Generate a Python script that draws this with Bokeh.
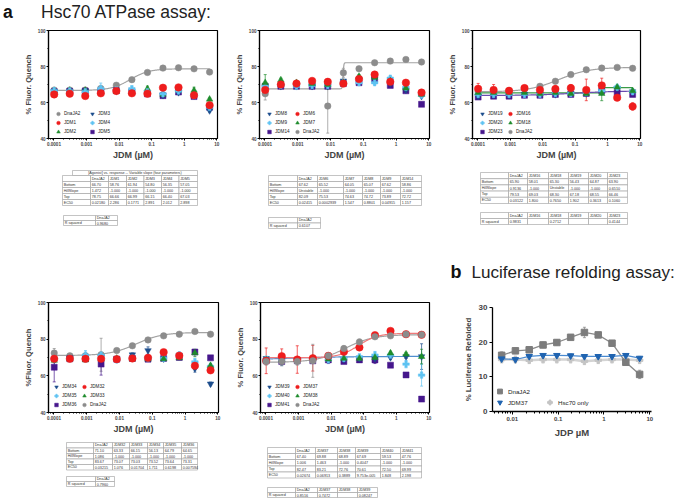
import numpy as np
from bokeh.plotting import figure
from bokeh.layouts import column, row
from bokeh.models import (Range1d, FixedTicker, CustomJSTickFormatter, Legend,
                          LegendItem, ColumnDataSource, Whisker, TeeHead)
from bokeh.core.properties import value
from bokeh.embed import file_html
from bokeh.resources import INLINE

FONT = "Liberation Sans"

# ---------------- data ----------------
conc_a = [0.0001016, 0.0003048, 0.0009145, 0.002743, 0.008230, 0.02469,
          0.07407, 0.2222, 0.6667, 2.0, 6.0]
conc_b = [0.00586, 0.0117, 0.0234, 0.0469, 0.0938, 0.1875, 0.375, 0.75, 1.5, 3.0, 6.0]

# panel a1
a1_dnaja2 = [66.9, 66.9, 66.9, 67.8, 69.6, 72.7, 76.7, 79.1, 79.3, 78.7, 76.9]
a1_dnaja2_err = [0.8, 0.6, 0.6, 0.8, 1.0, 0.8, 0.6, 0.6, 0.5, 0.6, 0.6]
a1_jdm1 = [64.5, 64.9, 63.6, 65.1, 66.4, 65.1, 64.9, 68.2, 68.4, 64.0, 58.5]
a1_jdm1_err = [1.2, 1.0, 0.8, 0.8, 0.8, 1.0, 0.8, 0.8, 0.8, 1.0, 1.0]
a1_jdm2 = [66.4, 66.7, 66.7, 65.8, 66.2, 65.8, 67.6, 64.5, 66.9, 66.7, 61.8]
a1_jdm2_err = [0.8, 0.8, 0.6, 0.8, 0.8, 0.8, 1.5, 0.8, 0.8, 1.8, 0.8]
a1_jdm3 = [66.2, 66.2, 66.4, 66.0, 66.4, 66.0, 65.5, 64.0, 65.6, 63.6, 55.5]
a1_jdm3_err = [0.6, 0.6, 0.6, 0.6, 0.6, 0.6, 0.6, 0.6, 0.6, 0.6, 0.8]
a1_jdm4 = [66.6, 66.4, 66.0, 67.8, 67.0, 67.6, 66.0, 64.8, 66.4, 63.8, 57.3]
a1_jdm4_err = [0.8, 0.8, 0.8, 3.0, 1.2, 1.5, 0.8, 0.8, 0.8, 0.8, 1.2]
a1_jdm5 = [66.0, 66.2, 66.4, 66.2, 66.6, 66.0, 64.8, 63.8, 65.8, 63.3, 57.3]
a1_jdm5_err = [0.6, 0.6, 0.6, 0.6, 0.6, 0.6, 0.6, 0.6, 0.6, 0.6, 0.6]

# panel a2
a2_dnaja2 = [64.9, 69.5, 70.3, 70.3, 58.0, 76.5, 78.8, 82.1, 83.0, 83.9, 82.5]
a2_dnaja2_err = [3.5, 1.5, 2.0, 2.0, 15.0, 2.5, 1.0, 0.6, 0.6, 0.6, 0.6]
a2_jdm6 = [67.0, 70.0, 70.5, 72.0, 71.5, 70.5, 73.0, 75.5, 71.5, 71.0, 65.5]
a2_jdm6_err = [1.5, 1.0, 1.0, 1.5, 1.5, 1.0, 1.5, 1.5, 1.0, 1.5, 1.5]
a2_jdm7 = [71.0, 72.5, 71.0, 70.5, 70.0, 71.0, 74.5, 74.0, 72.0, 68.0, 64.5]
a2_jdm7_err = [4.5, 1.0, 1.0, 1.0, 1.0, 1.0, 1.0, 1.0, 1.0, 1.0, 1.0]
a2_jdm8 = [68.5, 69.0, 69.0, 69.0, 69.0, 72.0, 72.5, 73.0, 70.5, 67.0, 63.5]
a2_jdm8_err = [0.8, 0.8, 0.8, 0.8, 0.8, 0.8, 0.8, 0.8, 0.8, 0.8, 0.8]
a2_jdm9 = [69.0, 69.5, 69.0, 69.5, 69.5, 71.0, 71.0, 71.0, 73.5, 68.5, 64.0]
a2_jdm9_err = [1.5, 1.0, 1.0, 1.0, 1.0, 1.0, 1.0, 1.0, 1.0, 1.0, 1.0]
a2_jdm14 = [69.0, 69.0, 69.0, 69.0, 69.0, 70.5, 71.0, 73.0, 69.5, 66.5, 59.0]
a2_jdm14_err = [0.6, 0.6, 0.6, 0.6, 0.6, 0.6, 0.6, 0.6, 0.6, 0.6, 0.6]

# panel a3
a3_dnaja2 = [66.0, 66.0, 66.5, 67.5, 69.0, 71.8, 75.5, 78.2, 79.1, 79.5, 79.0]
a3_dnaja2_err = [0.6, 0.6, 0.6, 0.6, 0.6, 0.6, 0.6, 0.6, 0.6, 0.6, 0.6]
a3_jdm16 = [67.6, 67.0, 66.5, 68.0, 67.0, 67.5, 68.0, 67.0, 69.5, 62.7, 57.8]
a3_jdm16_err = [3.0, 3.0, 1.5, 1.5, 1.5, 2.0, 2.0, 6.0, 4.0, 1.0, 2.0]
a3_jdm18 = [65.5, 65.5, 65.5, 65.5, 65.0, 65.5, 65.0, 65.0, 65.0, 68.5, 66.5]
a3_jdm18_err = [0.8, 0.8, 0.8, 0.8, 0.8, 0.8, 0.8, 0.8, 4.0, 0.8, 1.0]
a3_jdm19 = [63.5, 64.0, 64.0, 64.5, 64.5, 64.5, 65.0, 65.0, 66.0, 68.0, 66.0]
a3_jdm19_err = [1.5, 1.5, 1.0, 1.0, 1.0, 1.0, 1.0, 1.0, 1.0, 1.0, 1.0]
a3_jdm20 = [64.5, 64.5, 64.5, 64.5, 64.5, 65.0, 65.0, 65.5, 66.5, 68.5, 66.0]
a3_jdm20_err = [1.0, 1.0, 1.0, 1.0, 1.0, 1.0, 1.0, 1.0, 1.0, 1.0, 1.0]
a3_jdm23 = [63.0, 63.5, 63.5, 64.0, 64.0, 64.5, 64.5, 65.0, 66.5, 65.5, 64.5]
a3_jdm23_err = [0.6, 0.6, 0.6, 0.6, 0.6, 0.6, 0.6, 0.6, 0.6, 0.6, 0.6]

# panel a4
a4_dnaja2 = [72.4, 70.9, 70.9, 71.5, 73.8, 76.4, 79.6, 81.8, 82.7, 84.2, 82.7]
a4_dnaja2_err = [2.5, 1.0, 1.0, 9.0, 1.0, 0.8, 0.8, 0.6, 0.6, 0.6, 0.6]
a4_jdm32 = [69.3, 69.3, 69.3, 69.3, 69.1, 69.5, 69.8, 72.9, 71.0, 65.5, 63.0]
a4_jdm32_err = [1.5, 1.0, 1.0, 1.5, 1.0, 1.0, 1.0, 1.0, 1.5, 2.0, 1.5]
a4_jdm33 = [68.4, 69.1, 68.7, 69.1, 69.5, 69.1, 69.1, 69.3, 69.8, 72.5, 65.6]
a4_jdm33_err = [1.0, 1.0, 1.0, 1.0, 1.0, 1.0, 1.0, 1.0, 1.0, 2.0, 1.0]
a4_jdm34 = [68.7, 69.8, 70.2, 70.2, 69.3, 71.5, 73.8, 69.3, 71.3, 64.0, 55.6]
a4_jdm34_err = [1.0, 1.0, 1.0, 2.0, 1.0, 1.0, 2.0, 1.0, 1.0, 2.0, 1.0]
a4_jdm35 = [69.1, 69.3, 71.3, 71.3, 68.7, 69.6, 69.6, 69.6, 71.5, 67.6, 65.1]
a4_jdm35_err = [1.0, 1.0, 2.5, 1.0, 1.0, 1.0, 1.0, 1.0, 1.0, 2.0, 1.0]
a4_jdm36 = [64.7, 69.3, 69.3, 66.4, 69.1, 69.5, 69.1, 69.5, 70.0, 73.0, 69.8]
a4_jdm36_err = [8.0, 1.0, 1.0, 6.0, 1.0, 1.0, 1.0, 1.0, 1.0, 1.0, 1.0]

# panel a5
a5_dnaja2 = [67.8, 67.8, 67.8, 68.2, 70.9, 74.9, 78.5, 81.3, 81.8, 82.7, 82.4]
a5_dnaja2_err = [2.0, 2.0, 2.0, 9.0, 1.0, 1.5, 1.5, 0.8, 0.8, 0.6, 0.6]
a5_jdm37 = [68.2, 70.7, 68.9, 69.6, 70.9, 73.1, 75.5, 82.2, 84.5, 82.7, 82.4]
a5_jdm37_err = [7.0, 4.0, 7.5, 7.0, 1.0, 1.0, 1.0, 0.8, 0.8, 0.6, 0.6]
a5_jdm38 = [68.7, 68.7, 68.7, 69.5, 69.1, 69.5, 69.5, 70.0, 72.4, 71.8, 70.5]
a5_jdm38_err = [1.0, 1.0, 1.0, 1.0, 1.0, 1.0, 1.0, 1.0, 1.0, 1.0, 4.0]
a5_jdm39 = [69.5, 68.5, 68.5, 68.5, 69.0, 69.0, 69.5, 69.5, 70.0, 70.5, 70.5]
a5_jdm39_err = [1.0, 3.0, 1.0, 1.0, 1.0, 1.0, 1.0, 1.0, 1.0, 1.0, 7.0]
a5_jdm40 = [69.1, 69.1, 68.7, 68.7, 68.7, 69.5, 70.4, 71.3, 71.3, 66.4, 60.4]
a5_jdm40_err = [1.0, 1.0, 1.0, 1.0, 1.0, 1.0, 1.0, 2.0, 2.0, 2.0, 6.0]
a5_jdm41 = [68.2, 67.8, 68.2, 68.2, 68.7, 67.8, 68.7, 68.7, 65.8, 60.5, 47.3]
a5_jdm41_err = [1.0, 1.0, 1.0, 1.0, 2.0, 1.0, 1.0, 2.0, 1.0, 1.0, 1.0]

# panel b
b_dnaja2 = [16.2, 17.5, 17.8, 19.2, 19.9, 21.4, 22.8, 22.1, 19.7, 14.2, 10.7]
b_dnaja2_err = [1.0, 0.8, 0.6, 0.8, 0.8, 0.5, 1.5, 0.5, 0.7, 0.5, 1.2]
b_jdm37 = [15.2, 15.0, 15.9, 16.2, 16.2, 16.1, 15.9, 15.9, 15.9, 16.2, 15.4]
b_jdm37_err = [0.5, 0.5, 0.5, 0.5, 0.5, 0.5, 0.5, 0.5, 0.5, 0.5, 0.5]
b_hsc70 = [15.0, 15.0, 14.8, 15.0, 15.0, 15.0, 14.5, 14.8, 15.0, 15.0, 14.8]
b_hsc70_err = [1.0, 1.0, 1.0, 1.0, 1.0, 1.0, 1.0, 1.0, 1.0, 1.0, 1.0]

# tables
row_names = ["Bottom", "HillSlope", "Top", "EC50"]
t1_header = "[Agonist] vs. response -- Variable slope (four parameters)"
t1_cols = ["DnaJA2", "JDM1", "JDM2", "JDM3", "JDM4", "JDM5"]
t1_bottom = ["66.70", "58.76", "61.94", "54.80", "56.35", "57.05"]
t1_hill = ["1.472", "-1.000", "-1.000", "-1.000", "-1.000", "-1.000"]
t1_top = ["78.75", "66.66", "66.99", "66.15", "66.40", "67.03"]
t1_ec50 = ["0.02180", "2.286", "0.1771", "2.891", "2.012", "2.898"]
t1_rsq_cols = ["DnaJA2"]
t1_rsq = ["0.9680"]

t2_cols = ["DnaJA2", "JDM6", "JDM7", "JDM8", "JDM9", "JDM14"]
t2_bottom = ["67.62", "65.52", "64.05", "65.07", "67.62", "58.86"]
t2_hill = ["Unstable", "-1.000", "-1.000", "-1.000", "-1.000", "-1.000"]
t2_top = ["82.09", "75.53", "74.63", "74.72", "73.89", "72.72"]
t2_ec50 = ["0.02415", "0.0002939", "1.547", "0.8801", "0.04915", "1.157"]
t2_rsq_cols = ["DnaJA2"]
t2_rsq = ["0.6107"]

t3_cols = ["DnaJA2", "JDM16", "JDM18", "JDM19", "JDM20", "JDM23"]
t3_bottom = ["65.90", "58.01", "65.30", "56.43", "64.87", "63.90"]
t3_hill = ["0.9136", "-1.000", "Unstable", "-1.000", "-1.000", "0.6510"]
t3_top = ["79.53", "69.03", "68.30", "67.18", "68.55", "66.46"]
t3_ec50 = ["0.03122", "1.800", "0.7650", "1.902", "0.3613", "0.1060"]
t3_rsq_cols = ["DnaJA2", "JDM16", "JDM18", "JDM19", "JDM20", "JDM23"]
t3_rsq = ["0.9831", "", "0.2712", "", "", "0.4144"]

t4_cols = ["DnaJA2", "JDM32", "JDM33", "JDM34", "JDM35", "JDM36"]
t4_bottom = ["71.10", "63.33", "66.15", "56.13", "64.79", "64.65"]
t4_hill = ["1.086", "-1.000", "-1.000", "-1.000", "-1.000", "-1.000"]
t4_top = ["83.67", "73.07", "73.03", "73.52", "73.64", "73.31"]
t4_ec50 = ["0.03215", "1.076", "0.01704", "1.711", "0.6198", "0.007594"]
t4_rsq_cols = ["DnaJA2"]
t4_rsq = ["0.7960"]

t5_cols = ["DnaJA2", "JDM37", "JDM38", "JDM39", "JDM40", "JDM41"]
t5_bottom = ["67.40", "69.88", "68.89", "67.69", "59.53", "47.76"]
t5_hill = ["1.006", "1.463", "-1.000", "0.4047", "-1.000", "-1.000"]
t5_top = ["82.47", "83.21", "72.76", "70.61", "72.50", "69.99"]
t5_ec50 = ["0.02674", "0.06913", "0.3889", "9.753e-005", "1.848", "2.198"]
t5_rsq_cols = ["DnaJA2", "JDM37", "JDM38", "JDM39"]
t5_rsq = ["0.8516", "0.7472", "", "0.08247"]

# ---------------- styles ----------------
COL = {"grey": "#8c8c8c", "red": "#ee1d1d", "green": "#1e8c2c",
       "navy": "#1c4d8c", "light": "#5ec3f2", "purple": "#46178c"}
MARK = {"grey": ("circle", 6.5), "red": ("circle", 7.5), "green": ("triangle", 6.5),
        "navy": ("inverted_triangle", 6.5), "light": ("plus", 6.5), "purple": ("square", 6.0)}
CURVE_COL = {"grey": "#a3a3a3", "green": "#3a9a46", "purple": "#6a4ab0",
             "red": "#f07a7a", "navy": "#4f8fd0"}
STEEP = 40.0
XR = (6.8e-5, 10.5)
XTICKS = [0.0001, 0.001, 0.01, 0.1, 1, 10]
XMINOR = [k * 10.0 ** e for e in range(-5, 2) for k in range(2, 10)]


def panel_fig(width, height, bl, br, bt, bb, ylabel):
    p = figure(width=width, height=height, x_axis_type="log",
               x_range=Range1d(*XR), y_range=Range1d(40, 100),
               output_backend="svg", toolbar_location=None, frame_align=False,
               min_border_left=bl, min_border_right=br,
               min_border_top=bt, min_border_bottom=bb)
    p.title.visible = False
    p.xgrid.visible = False
    p.ygrid.visible = False
    p.outline_line_color = "black"
    p.outline_line_width = 1.2
    p.background_fill_color = None
    p.border_fill_color = None
    p.xaxis.ticker = FixedTicker(ticks=XTICKS, minor_ticks=XMINOR)
    p.xaxis.formatter = CustomJSTickFormatter(code="return tick.toString();")
    p.yaxis.ticker = FixedTicker(ticks=[40, 60, 80, 100], minor_ticks=[50, 70, 90])
    for ax in p.axis:
        ax.major_label_text_font = FONT
        ax.major_label_text_font_size = "4.6px"
        ax.major_label_text_font_style = "bold"
        ax.axis_line_width = 1.2
        ax.major_tick_out = 2
        ax.major_tick_in = 0
        ax.minor_tick_out = 1
        ax.minor_tick_in = 0
        ax.major_label_standoff = 1
        ax.axis_label_text_font = FONT
        ax.axis_label_text_font_style = "bold"
        ax.axis_label_standoff = 2
    p.xaxis.axis_label = "JDM (µM)"
    p.xaxis.axis_label_text_font_size = "9px"
    p.xaxis.axis_label_standoff = 1
    p.yaxis.axis_label = ylabel
    p.yaxis.axis_label_text_font_size = "7.6px"
    return p


def add_series(p, xs, series):
    rends = {}
    for name, role, ys, es in series:
        c = COL[role]
        src = ColumnDataSource(dict(x=xs, y=ys,
                                    upper=[y + e for y, e in zip(ys, es)],
                                    lower=[y - e for y, e in zip(ys, es)]))
        w = Whisker(source=src, base="x", upper="upper", lower="lower",
                    line_color=c, line_width=0.7, level="underlay",
                    upper_head=TeeHead(size=3, line_color=c, line_width=0.7),
                    lower_head=TeeHead(size=3, line_color=c, line_width=0.7))
        p.add_layout(w)
        m, s = MARK[role]
        rends[name] = p.scatter("x", "y", source=src, marker=m, size=s,
                                fill_color=c, line_color=c, line_width=0.5)
    return rends


def add_curve(p, xs, bottom, hill, top, ec50, role):
    b = float(bottom)
    t = float(top)
    h = STEEP if hill == "Unstable" else float(hill)
    e = float(ec50)
    xx = np.logspace(np.log10(xs[0]), np.log10(xs[-1]), 400)
    yy = b + (t - b) / (1 + 10 ** ((np.log10(e) - np.log10(xx)) * h))
    p.line(xx, yy, line_color=CURVE_COL[role], line_width=1.2)


def add_legend(p, rends, order, label_w, loc):
    items = [LegendItem(label=n, renderers=[rends[n]]) for n in order]
    lg = Legend(items=items, location=loc, nrows=3, orientation="vertical",
                glyph_width=10, glyph_height=9, label_height=8, label_width=label_w,
                label_standoff=1, spacing=0, padding=0, margin=0,
                label_text_font=FONT, label_text_font_size="4.6px",
                label_text_color="#222222",
                border_line_alpha=0, background_fill_alpha=0)
    p.add_layout(lg, "center")


def panel(width, height, bl, br, bt, bb, ylabel, series, curves, order, label_w, loc, tab):
    p = panel_fig(width, height, bl, br, bt, bb, ylabel)
    cols, bots, hills, tops, ecs = tab
    for name, role in curves:
        i = cols.index(name)
        add_curve(p, conc_a, bots[i], hills[i], tops[i], ecs[i], role)
    rends = add_series(p, conc_a, series)
    add_legend(p, rends, order, label_w, loc)
    return p


f1 = panel(228, 140, 48, 11, 8, 22, "% Fluor. Quench",
           [("DnaJA2", "grey", a1_dnaja2, a1_dnaja2_err),
            ("JDM5", "purple", a1_jdm5, a1_jdm5_err),
            ("JDM3", "navy", a1_jdm3, a1_jdm3_err),
            ("JDM2", "green", a1_jdm2, a1_jdm2_err),
            ("JDM4", "light", a1_jdm4, a1_jdm4_err),
            ("JDM1", "red", a1_jdm1, a1_jdm1_err)],
           [("DnaJA2", "grey")],
           ["DnaJA2", "JDM1", "JDM2", "JDM3", "JDM4", "JDM5"], 23, (5, 2),
           (t1_cols, t1_bottom, t1_hill, t1_top, t1_ec50))

f2 = panel(212, 140, 31, 11, 8, 22, "% Fluor. Quench",
           [("DnaJA2", "grey", a2_dnaja2, a2_dnaja2_err),
            ("JDM14", "purple", a2_jdm14, a2_jdm14_err),
            ("JDM8", "navy", a2_jdm8, a2_jdm8_err),
            ("JDM9", "light", a2_jdm9, a2_jdm9_err),
            ("JDM7", "green", a2_jdm7, a2_jdm7_err),
            ("JDM6", "red", a2_jdm6, a2_jdm6_err)],
           [("DnaJA2", "grey")],
           ["JDM8", "JDM9", "JDM14", "JDM6", "JDM7", "DnaJA2"], 17, (5, 2),
           (t2_cols, t2_bottom, t2_hill, t2_top, t2_ec50))

f3 = panel(240, 140, 32, 40, 8, 22, "% Fluor. Quench",
           [("DnaJA2", "grey", a3_dnaja2, a3_dnaja2_err),
            ("JDM23", "purple", a3_jdm23, a3_jdm23_err),
            ("JDM19", "navy", a3_jdm19, a3_jdm19_err),
            ("JDM20", "light", a3_jdm20, a3_jdm20_err),
            ("JDM18", "green", a3_jdm18, a3_jdm18_err),
            ("JDM16", "red", a3_jdm16, a3_jdm16_err)],
           [("DnaJA2", "grey"), ("JDM18", "green"), ("JDM23", "purple")],
           ["JDM19", "JDM20", "JDM23", "JDM16", "JDM18", "DnaJA2"], 17, (5, 2),
           (t3_cols, t3_bottom, t3_hill, t3_top, t3_ec50))

f4 = panel(228, 202, 48, 10, 67, 25, "%Fluor. Quench",
           [("DnaJA2", "grey", a4_dnaja2, a4_dnaja2_err),
            ("JDM36", "purple", a4_jdm36, a4_jdm36_err),
            ("JDM34", "navy", a4_jdm34, a4_jdm34_err),
            ("JDM35", "light", a4_jdm35, a4_jdm35_err),
            ("JDM33", "green", a4_jdm33, a4_jdm33_err),
            ("JDM32", "red", a4_jdm32, a4_jdm32_err)],
           [("DnaJA2", "grey")],
           ["JDM34", "JDM35", "JDM36", "JDM32", "JDM33", "DnaJA2"], 17, (3, 3),
           (t4_cols, t4_bottom, t4_hill, t4_top, t4_ec50))

f5 = panel(212, 202, 32, 11, 67, 25, "% Fluor. Quench",
           [("JDM41", "purple", a5_jdm41, a5_jdm41_err),
            ("JDM39", "navy", a5_jdm39, a5_jdm39_err),
            ("JDM40", "light", a5_jdm40, a5_jdm40_err),
            ("JDM38", "green", a5_jdm38, a5_jdm38_err),
            ("JDM37", "red", a5_jdm37, a5_jdm37_err),
            ("DnaJA2", "grey", a5_dnaja2, a5_dnaja2_err)],
           [("JDM39", "navy"), ("DnaJA2", "grey"), ("JDM37", "red")],
           ["JDM39", "JDM40", "JDM41", "JDM37", "JDM38", "DnaJA2"], 17, (4, 3),
           (t5_cols, t5_bottom, t5_hill, t5_top, t5_ec50))

# ---------------- panel b ----------------
f6 = figure(width=240, height=155, x_axis_type="log",
            x_range=Range1d(0.0037, 10.9), y_range=Range1d(0, 30),
            output_backend="svg", toolbar_location=None, frame_align=False,
            min_border_left=52, min_border_right=29, min_border_top=22, min_border_bottom=28)
f6.title.visible = False
f6.grid.visible = False
f6.outline_line_color = None
f6.xaxis.ticker = FixedTicker(ticks=[0.01, 0.1, 1, 10],
                              minor_ticks=[k * 10.0 ** e for e in range(-3, 2) for k in range(2, 10)])
f6.xaxis.formatter = CustomJSTickFormatter(code="return tick.toString();")
f6.yaxis.ticker = FixedTicker(ticks=[0, 10, 20, 30])
for ax in f6.axis:
    ax.axis_line_width = 1.3
    ax.major_tick_out = 3
    ax.major_tick_in = 0
    ax.minor_tick_out = 2
    ax.minor_tick_in = 0
    ax.major_label_text_font = FONT
    ax.major_label_text_font_style = "bold"
    ax.major_label_standoff = 2
    ax.axis_label_text_font = FONT
    ax.axis_label_text_font_style = "bold"
    ax.axis_label_standoff = 3
f6.yaxis.major_label_text_font_size = "8px"
f6.xaxis.major_label_text_font_size = "6px"
f6.yaxis.axis_label = "% Luciferase Refolded"
f6.yaxis.axis_label_text_font_size = "7.8px"
f6.xaxis.axis_label = "JDP µM"
f6.xaxis.axis_label_text_font_size = "9.5px"
f6.yaxis.minor_tick_out = 0

b_rends = {}
for name, ys, es, c, lc, lw, m in [
        ("Hsc70 only", b_hsc70, b_hsc70_err, "#c4c4c4", "#d4d4d4", 2.5, "plus"),
        ("DnaJA2", b_dnaja2, b_dnaja2_err, "#7c7c7c", "#8a8a8a", 1.3, "square"),
        ("JDM37", b_jdm37, b_jdm37_err, "#1f63b0", "#4a8ad0", 1.2, "inverted_triangle")]:
    src = ColumnDataSource(dict(x=conc_b, y=ys,
                                upper=[y + e for y, e in zip(ys, es)],
                                lower=[y - e for y, e in zip(ys, es)]))
    f6.add_layout(Whisker(source=src, base="x", upper="upper", lower="lower",
                          line_color=lc, line_width=0.8, level="underlay",
                          upper_head=TeeHead(size=3, line_color=lc, line_width=0.8),
                          lower_head=TeeHead(size=3, line_color=lc, line_width=0.8)))
    f6.line("x", "y", source=src, line_color=lc, line_width=lw)
    b_rends[name] = f6.scatter("x", "y", source=src, marker=m, size=6.5,
                               fill_color=c, line_color=c)

lg_common = dict(glyph_width=13, glyph_height=12, label_height=10, label_standoff=2,
                 spacing=0, padding=0, margin=0, label_text_font=FONT,
                 label_text_font_size="6.2px", label_text_color="#222222",
                 border_line_alpha=0, background_fill_alpha=0)
f6.add_layout(Legend(items=[LegendItem(label="DnaJA2", renderers=[b_rends["DnaJA2"]])],
                     location=(1, 14), **lg_common), "center")
f6.add_layout(Legend(items=[LegendItem(label="JDM37", renderers=[b_rends["JDM37"]]),
                            LegendItem(label="Hsc70 only", renderers=[b_rends["Hsc70 only"]])],
                     location=(1, 3), orientation="horizontal", label_width=35,
                     **lg_common), "center")


# ---------------- tables & titles ----------------
def blank(width, height, x0, x1, y0, y1):
    p = figure(width=width, height=height, x_range=Range1d(x0, x1),
               y_range=Range1d(y1, y0), output_backend="svg", toolbar_location=None,
               x_axis_location=None, y_axis_location=None, min_border=0,
               frame_align=False)
    p.title.visible = False
    p.grid.visible = False
    p.outline_line_color = None
    return p


def add_table(p, xe, ye, grid):
    L, R, T, B, TX, TY, TT = [], [], [], [], [], [], []
    for r, cells in enumerate(grid):
        for c, t in enumerate(cells):
            L.append(xe[c]); R.append(xe[c + 1]); T.append(ye[r]); B.append(ye[r + 1])
            TX.append(xe[c] + 1.2); TY.append((ye[r] + ye[r + 1]) / 2); TT.append(t)
    p.quad(left=L, right=R, top=T, bottom=B, fill_color="white",
           line_color="#9c9c9c", line_width=0.6)
    p.text(x=TX, y=TY, text=TT, text_font=value(FONT), text_font_size="3.7px",
           text_baseline="middle", text_align="left", text_color="#333333")


def param_grid(cols, bots, hills, tops, ecs):
    vals = [bots, hills, tops, ecs]
    return [[""] + cols] + [[rn] + v for rn, v in zip(row_names, vals)]


def rsq_grid(cols, vals):
    return [[""] + cols, ["R squared"] + vals]


band1 = blank(680, 73, 0, 680, 162, 235)
band1.quad(left=[72], right=[197], top=[170], bottom=[175], fill_color="white",
           line_color="#9c9c9c", line_width=0.6)
band1.text(x=[134.5], y=[172.5], text=[t1_header], text_font=value(FONT),
           text_font_size="3.7px", text_baseline="middle", text_align="center",
           text_color="#333333")
add_table(band1, [62, 90, 108, 126, 143.5, 161, 178.5, 197], [175, 181, 187, 193, 199, 205],
          param_grid(t1_cols, t1_bottom, t1_hill, t1_top, t1_ec50))
add_table(band1, [63, 95, 117], [215, 220, 225], rsq_grid(t1_rsq_cols, t1_rsq))
add_table(band1, [268, 297, 317, 343, 362, 380, 400, 421], [175, 181, 187, 193, 199, 205],
          param_grid(t2_cols, t2_bottom, t2_hill, t2_top, t2_ec50))
add_table(band1, [268, 297, 320], [217, 222.5, 228], rsq_grid(t2_rsq_cols, t2_rsq))
add_table(band1, [480, 508, 527, 548, 568, 588, 607, 627],
          [172, 178.2, 184.4, 190.6, 196.8, 203],
          param_grid(t3_cols, t3_bottom, t3_hill, t3_top, t3_ec50))
add_table(band1, [480, 508, 527, 548, 568, 588, 607, 627], [212, 218, 224],
          rsq_grid(t3_rsq_cols, t3_rsq))

band2 = blank(440, 65, 0, 440, 437, 502)
add_table(band2, [66, 93, 112, 129, 147, 163, 181, 197],
          [442, 447.5, 453, 458.5, 464, 469.5],
          param_grid(t4_cols, t4_bottom, t4_hill, t4_top, t4_ec50))
add_table(band2, [66, 95, 114], [476, 481, 486], rsq_grid(t4_rsq_cols, t4_rsq))
add_table(band2, [267, 295, 315, 337, 355, 380, 400, 421],
          [447, 453, 459, 465.5, 471.5, 477.5],
          param_grid(t5_cols, t5_bottom, t5_hill, t5_top, t5_ec50))
add_table(band2, [267, 295, 317, 337, 357, 377], [487, 492, 497],
          rsq_grid(t5_rsq_cols, t5_rsq))

title_a = blank(680, 22, 0, 680, 0, 22)
title_a.text(x=[2.5], y=[11.5], text=["a"], text_font=value(FONT), text_font_size="17.5px",
             text_font_style="bold", text_baseline="alphabetic", text_color="#111111")
title_a.text(x=[40.5], y=[11.5], text=["Hsc70 ATPase assay:"], text_font=value(FONT),
             text_font_size="17.5px", text_baseline="alphabetic", text_color="#222222")

title_b = blank(240, 50, 440, 680, 235, 285)
title_b.text(x=[450], y=[271.5], text=["b"], text_font=value(FONT), text_font_size="18px",
             text_font_style="bold", text_baseline="alphabetic", text_color="#111111")
title_b.text(x=[471], y=[271.5], text=["Luciferase refolding assay:"], text_font=value(FONT),
             text_font_size="17.1px", text_baseline="alphabetic", text_color="#222222")

root = column(title_a,
              row(f1, f2, f3),
              band1,
              row(column(row(f4, f5), band2), column(title_b, f6)))

open("out.html", "w").write(file_html(root, INLINE))
